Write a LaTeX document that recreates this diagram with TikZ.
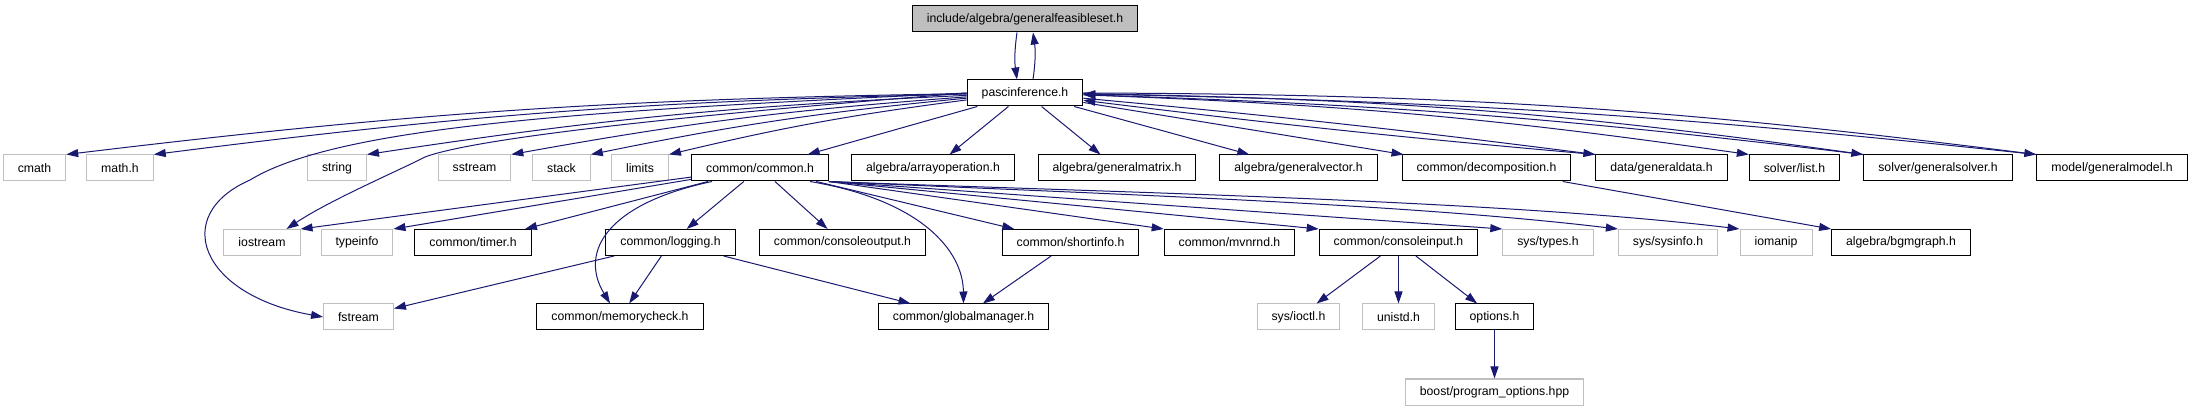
\documentclass[tikz,border=0pt]{standalone}
\usepackage{fontspec}
\setmainfont{Liberation Sans}
\usepackage{tikz}
\usetikzlibrary{arrows.meta}

\definecolor{edgeblue}{HTML}{191970}
\definecolor{extgrey}{HTML}{BFBFBF}

\tikzset{
  filenode/.style={draw=black, line width=1pt, rectangle, minimum height=26pt,
    inner xsep=14.5pt, inner ysep=0pt, font=\fontsize{12.27pt}{14pt}\selectfont},
  extnode/.style={filenode, draw=extgrey},
  curnode/.style={filenode, fill=extgrey},
  inc/.style={draw=edgeblue, line width=1pt, -{Triangle[length=12pt,width=8pt]}}
}

\begin{document}
\begin{tikzpicture}[x=1pt, y=1pt]
\useasboundingbox (0,0) rectangle (2192,-411);

% top two levels
\node[curnode] (feas) at (1025,-19) {include/algebra/generalfeasibleset.h};
\node[filenode] (pasc) at (1025,-93) {pascinference.h};

% row 1
\node[extnode] (cmath) at (34.5,-168) {cmath};
\node[extnode] (mathh) at (120,-168) {math.h};
\node[extnode] (string) at (337,-168) {string};
\node[extnode] (sstream) at (474.5,-168) {sstream};
\node[extnode] (stack) at (561.5,-168) {stack};
\node[extnode] (limits) at (640,-168) {limits};
\node[filenode] (common) at (760,-168) {common/common.h};
\node[filenode] (arrayop) at (933,-168) {algebra/arrayoperation.h};
\node[filenode] (gmatrix) at (1117,-168) {algebra/generalmatrix.h};
\node[filenode] (gvector) at (1298.5,-168) {algebra/generalvector.h};
\node[filenode] (decomp) at (1486.5,-168) {common/decomposition.h};
\node[filenode] (gdata) at (1661.5,-168) {data/generaldata.h};
\node[filenode] (list) at (1794.5,-168) {solver/list.h};
\node[filenode] (gsolver) at (1938,-168) {solver/generalsolver.h};
\node[filenode] (gmodel) at (2112,-168) {model/generalmodel.h};

% row 2
\node[extnode] (iostream) at (262,-242.5) {iostream};
\node[extnode] (typeinfo) at (357,-242.5) {typeinfo};
\node[filenode] (timer) at (473,-242.5) {common/timer.h};
\node[filenode] (logging) at (670.5,-242.5) {common/logging.h};
\node[filenode] (consout) at (842.5,-242.5) {common/consoleoutput.h};
\node[filenode] (shortinfo) at (1070.5,-242.5) {common/shortinfo.h};
\node[filenode] (mvnrnd) at (1229.5,-242.5) {common/mvnrnd.h};
\node[filenode] (consin) at (1398.5,-242.5) {common/consoleinput.h};
\node[extnode] (systypes) at (1548,-242.5) {sys/types.h};
\node[extnode] (sysinfo) at (1668,-242.5) {sys/sysinfo.h};
\node[extnode] (iomanip) at (1776,-242.5) {iomanip};
\node[filenode] (bgmgraph) at (1901,-242.5) {algebra/bgmgraph.h};

% row 3 and 4
\node[extnode] (fstream) at (358.5,-317) {fstream};
\node[filenode] (memcheck) at (620,-317) {common/memorycheck.h};
\node[filenode] (globalman) at (963.5,-317) {common/globalmanager.h};
\node[extnode] (ioctl) at (1298.5,-317) {sys/ioctl.h};
\node[extnode] (unistd) at (1398.5,-317) {unistd.h};
\node[filenode] (options) at (1494.5,-317) {options.h};
\node[extnode] (boostpo) at (1494.5,-392) {boost/program\_options.hpp};

% cycle between the two top files
\draw[inc] ([xshift=-8pt]feas.south) to[bend right=8] ([xshift=-8pt]pasc.north);
\draw[inc] ([xshift=8pt]pasc.north) to[bend right=8] ([xshift=8pt]feas.south);

% pascinference.h includes
\draw[inc] (pasc) to[bend right=3] (cmath.north east);
\draw[inc] (pasc) to[bend right=3] (mathh.north east);
\draw[inc] (pasc) to[bend right=3] (string.north east);
\draw[inc] (pasc) to[bend right=3] (sstream.north east);
\draw[inc] (pasc) to[bend right=3] (stack.north east);
\draw[inc] (pasc) to[bend right=3] (limits.north east);
\draw[inc] (pasc.west) .. controls (650,-118) and (470,-140) .. (425,-157)
  .. controls (400,-170) and (330,-200) .. ([xshift=-14pt]iostream.north east);
\draw[inc] (pasc.west) .. controls (600,-110) and (340,-125) .. (250,-180)
  .. controls (170,-215) and (200,-295) .. (fstream.west);
\draw[inc] (pasc) -- (common);
\draw[inc] (pasc) -- (arrayop);
\draw[inc] (pasc) -- (gmatrix);
\draw[inc] (pasc) -- (gvector);
\draw[inc] (pasc) -- (decomp);
\draw[inc] (pasc) to[bend left=1] (gdata.north west);
\draw[inc] (gdata.north west) to[bend left=1] (pasc);
\draw[inc] (pasc) to[bend left=3] (list.north west);
\draw[inc] (pasc) to[bend left=3.5] (gsolver.north west);
\draw[inc] (gsolver.north west) to[bend right=2.5] (pasc);
\draw[inc] (pasc) to[bend left=3.5] (gmodel.north west);
\draw[inc] (gmodel.north west) to[bend right=2.5] (pasc);

% common/common.h includes
\draw[inc] (common) -- (iostream.north east);
\draw[inc] (common) -- (typeinfo.north east);
\draw[inc] (common) -- (timer);
\draw[inc] (common) -- (logging);
\draw[inc] ([xshift=-48pt]common.south) .. controls (610,-203) and (578,-250) .. ([xshift=-10pt]memcheck.north);
\draw[inc] (common) -- (consout);
\draw[inc] ([xshift=50pt]common.south) .. controls (920,-200) and (963,-250) .. (globalman.north);
\draw[inc] (common) -- (shortinfo);
\draw[inc] (common.south east) -- (mvnrnd.north west);
\draw[inc] (common.south east) -- (consin.north west);
\draw[inc] (common.south east) -- (systypes.north west);
\draw[inc] (common.south east) .. controls (1100,-194) and (1400,-203) .. (sysinfo.north west);
\draw[inc] (common.south east) .. controls (1100,-192) and (1500,-200) .. (iomanip.north west);

% lower levels
\draw[inc] (decomp) -- (bgmgraph.north west);
\draw[inc] (logging) -- (fstream);
\draw[inc] (logging) -- (memcheck);
\draw[inc] (logging) -- (globalman);
\draw[inc] (shortinfo) -- (globalman);
\draw[inc] (consin) -- (ioctl);
\draw[inc] (consin) -- (unistd);
\draw[inc] (consin) -- (options);
\draw[inc] (options) -- (boostpo);
\end{tikzpicture}
\end{document}
